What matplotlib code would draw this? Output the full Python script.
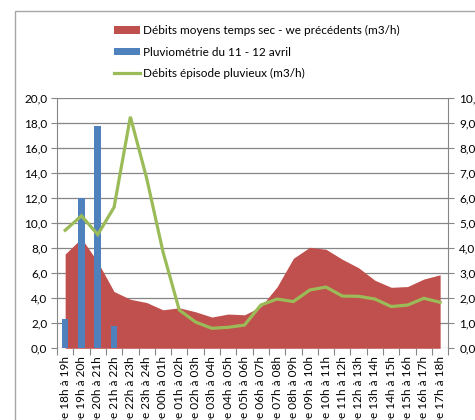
import numpy as np
import matplotlib
matplotlib.use("Agg")
from matplotlib import pyplot as plt
from matplotlib.patches import Rectangle, Patch
from matplotlib.lines import Line2D

plt.rcParams['font.family'] = ['Lato', 'DejaVu Sans']
plt.rcParams['font.size'] = 8.5

hours = ['18h', '19h', '20h', '21h', '22h', '23h', '00h', '01h', '02h', '03h', '04h', '05h',
         '06h', '07h', '08h', '09h', '10h', '11h', '12h', '13h', '14h', '15h', '16h', '17h']
ends = ['19h', '20h', '21h', '22h', '23h', '24h', '01h', '02h', '03h', '04h', '05h', '06h',
        '07h', '08h', '09h', '10h', '11h', '12h', '13h', '14h', '15h', '16h', '17h', '18h']
categories = ['De {} à {}'.format(a, b) for a, b in zip(hours, ends)]

# rainfall (left axis)
pluvio = [2.35, 12.0, 17.8, 1.75] + [0] * 20
# dry weather mean flow (right axis)
debit_sec = [3.77, 4.4, 3.45, 2.27, 1.96, 1.83, 1.54, 1.62, 1.46, 1.25, 1.37, 1.34,
             1.66, 2.46, 3.6, 4.04, 3.96, 3.56, 3.22, 2.72, 2.44, 2.47, 2.77, 2.94]
# rain episode flow (right axis)
debit_pluie = [4.72, 5.3, 4.55, 5.64, 9.26, 6.8, 3.86, 1.53, 1.05, 0.8, 0.84, 0.93,
               1.73, 1.97, 1.87, 2.33, 2.45, 2.09, 2.08, 1.97, 1.67, 1.73, 2.0, 1.84]

c_red = '#C0504D'
c_blue = '#4F81BD'
c_green = '#9BBB59'
c_grid = '#868686'

x = np.arange(len(categories))

fig = plt.figure(figsize=(4.75, 4.2), dpi=100)
rect = [57 / 475, 1 - 348.3 / 420, (448.3 - 57) / 475, 250 / 420]

# bottom axes: area + gridlines (right scale)
ax_area = fig.add_axes(rect, zorder=1)
# middle axes: bars (left scale)
ax = fig.add_axes(rect, zorder=2, sharex=ax_area)
# top axes: line (right scale)
ax_line = fig.add_axes(rect, zorder=3, sharex=ax_area)
ax.patch.set_visible(False)
ax_line.patch.set_visible(False)

ax_area.fill_between(x, debit_sec, 0, color=c_red, linewidth=0)
ax_area.set_ylim(0, 10)
ax_area.set_yticks(np.arange(0, 11, 1))
ax_area.set_yticklabels(['{:.1f}'.format(v).replace('.', ',') for v in range(11)])
ax_area.yaxis.tick_right()
ax_area.grid(axis='y', color=c_grid, linewidth=0.9)
ax_area.set_axisbelow(True)

ax.bar(x, pluvio, width=0.4, color=c_blue, linewidth=0)
ax.set_ylim(0, 20)
ax.set_yticks(np.arange(0, 21, 2))
ax.set_yticklabels(['{:.1f}'.format(v).replace('.', ',') for v in range(0, 21, 2)])

ax_line.plot(x, debit_pluie, color=c_green, linewidth=2.3, solid_joinstyle='miter')
ax_line.set_ylim(0, 10)
ax_line.axis('off')

ax_area.set_xlim(-0.5, len(categories) - 0.5)
ax.set_xticks(x)
ax.set_xticklabels(categories, rotation=90, va='top', ha='center')
ax.set_xticks(np.arange(-0.5, len(categories), 1), minor=True)
ax.tick_params(axis='x', which='major', length=0, pad=5.5)
ax.tick_params(axis='x', which='minor', length=5, color=c_grid, width=0.8)
ax.tick_params(axis='y', length=4, color=c_grid, width=0.8, pad=3)
ax_area.tick_params(axis='x', which='both', length=0, labelbottom=False)
ax_area.tick_params(axis='y', length=4, color=c_grid, width=0.8, pad=4)

for a in (ax, ax_area):
    for s in a.spines.values():
        s.set_visible(False)
ax.spines['left'].set_visible(True)
ax.spines['left'].set_color(c_grid)
ax_area.spines['right'].set_visible(True)
ax_area.spines['right'].set_color(c_grid)

handles = [Patch(facecolor=c_red, edgecolor='none'),
           Patch(facecolor=c_blue, edgecolor='none'),
           Line2D([0], [0], color=c_green, linewidth=2.3)]
labels = ['Débits moyens temps sec - we précédents (m3/h)',
          'Pluviométrie du 11 - 12 avril',
          'Débits épisode pluvieux (m3/h)']
fig.legend(handles, labels, loc='upper left', bbox_to_anchor=(114 / 475, 1 - 25 / 420),
           frameon=False, fontsize=8.5, handlelength=2.2, handleheight=0.6,
           handletextpad=0.25, labelspacing=0.9, borderaxespad=0, borderpad=0)

# outer chart border
fig.patches.append(Rectangle((14.5 / 475, -0.1), 1.2, 1 - 10.5 / 420 + 0.1,
                             transform=fig.transFigure, fill=False,
                             edgecolor='#A6A6A6', linewidth=1))

fig.savefig('out.png', dpi=100)
